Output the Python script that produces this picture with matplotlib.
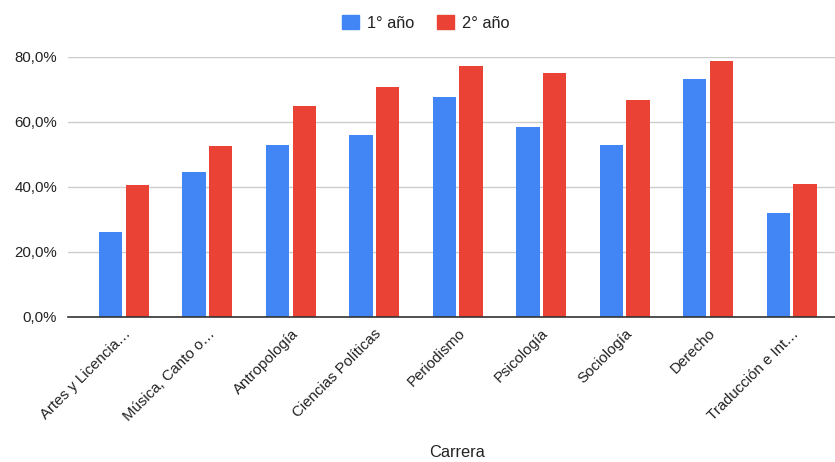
import numpy as np
import matplotlib.pyplot as plt
from matplotlib.patches import Patch

plt.rcParams['font.family'] = ['Liberation Sans', 'DejaVu Sans']

carreras = ["Artes y Licencia…", "Música, Canto o…", "Antropología", "Ciencias Políticas",
            "Periodismo", "Psicología", "Sociología", "Derecho", "Traducción e Int…"]
primer_anio = [26.2, 44.6, 52.8, 56.0, 67.6, 58.4, 52.8, 73.0, 31.8]
segundo_anio = [40.4, 52.4, 64.7, 70.7, 77.2, 74.9, 66.6, 78.6, 40.9]
series = ["1° año", "2° año"]
colores = ["#4285F4", "#EA4335"]

fig = plt.figure(figsize=(8.35, 4.62), dpi=100)
ax = fig.add_axes([0.0818, 0.3145, 0.9182, 0.5628])

x = np.arange(len(carreras))
w = 0.28
ax.bar(x - w / 2 - 0.02, primer_anio, w, color=colores[0], zorder=3)
ax.bar(x + w / 2 + 0.02, segundo_anio, w, color=colores[1], zorder=3)

ax.set_xlim(-0.667, 8.52)
ax.set_ylim(0, 80)
ax.set_yticks([0, 20, 40, 60, 80])
ax.set_yticklabels([f"{v},0%" for v in [0, 20, 40, 60, 80]], fontsize=10.8, color="#222222")
ax.yaxis.grid(True, color="#cccccc", linewidth=1, zorder=0)
ax.tick_params(axis='both', length=0, pad=8)

ax.set_xticks(x)
ax.set_xticklabels(carreras, rotation=45, ha='right', va='top', rotation_mode='anchor',
                   fontsize=10.8, color="#222222")
ax.tick_params(axis='x', pad=7)

for s in ['top', 'right', 'left']:
    ax.spines[s].set_visible(False)
ax.spines['bottom'].set_color("#333333")
ax.spines['bottom'].set_linewidth(1.2)
ax.spines['bottom'].set_zorder(4)

fig.text(0.547, 0.004, "Carrera", ha='center', va='bottom', fontsize=11.8, color="#222222")

handles = [Patch(color=c, label=s) for c, s in zip(colores, series)]
fig.legend(handles=handles, loc='upper center', bbox_to_anchor=(0.51, 1.0), ncol=2,
           frameon=False, handlelength=1.0, handleheight=1.0, handletextpad=0.5,
           columnspacing=1.4, fontsize=11.8, labelcolor="#222222")

fig.savefig("out.png", dpi=100)
